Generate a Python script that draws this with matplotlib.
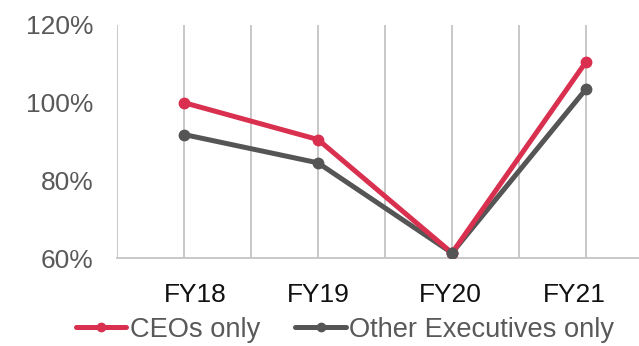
import matplotlib.pyplot as plt
from matplotlib.ticker import FuncFormatter

plt.rcParams['font.family'] = ['Liberation Sans', 'DejaVu Sans']

# Ratios by fiscal year
years = ['FY18', 'FY19', 'FY20', 'FY21']
ceos = [1.00, 0.905, 0.613, 1.105]
others = [0.918, 0.845, 0.613, 1.035]

# Each year sits on every other category slot
x_pos = [1, 3, 5, 7]
label_pos = [1.17, 3.0, 4.97, 6.82]

red = '#D9304F'
grey = '#555555'
grid_grey = '#C4C4C4'

fig = plt.figure(figsize=(6.39, 3.46), dpi=100)
# axes runs slightly past the right edge of the figure
ax = fig.add_axes([117 / 639, 88 / 346, 536 / 639, 233 / 346])

ax.plot(x_pos, others, color=grey, lw=3.6, marker='o', ms=7.5,
        solid_capstyle='round', label='Other Executives only', zorder=3)
ax.plot(x_pos, ceos, color=red, lw=3.6, marker='o', ms=7.5,
        solid_capstyle='round', label='CEOs only', zorder=4)
# grey point at FY20 sits on top
ax.plot([x_pos[2]], [others[2]], 'o', color=grey, ms=7.5, zorder=5)

ax.set_xlim(0, 8)
ax.set_ylim(0.6, 1.2)
ax.set_yticks([0.6, 0.8, 1.0, 1.2])
ax.yaxis.set_major_formatter(FuncFormatter(lambda v, _: f'{v * 100:.0f}%'))

# vertical gridlines at every slot
for g in range(0, 9):
    ax.axvline(g, color=grid_grey, lw=1.3, zorder=1)

ax.set_xticks(label_pos)
ax.set_xticklabels(years)
ax.tick_params(axis='x', length=0, pad=18, labelsize=19, labelcolor='#111111')
ax.tick_params(axis='y', length=0, pad=17, labelsize=19, labelcolor='#595959')

for side in ['top', 'right', 'left']:
    ax.spines[side].set_visible(False)
ax.spines['bottom'].set_color(grid_grey)
ax.spines['bottom'].set_linewidth(1.3)

handles, labels = ax.get_legend_handles_labels()
leg = fig.legend(handles[::-1], labels[::-1], loc='center', ncol=2,
                 bbox_to_anchor=(0.54, 0.047), frameon=False, fontsize=19.6,
                 handlelength=1.85, handletextpad=0.12, columnspacing=1.3,
                 borderaxespad=0, borderpad=0, markerscale=0.8)
for t in leg.get_texts():
    t.set_color('#595959')

fig.savefig('out.png', dpi=100)
